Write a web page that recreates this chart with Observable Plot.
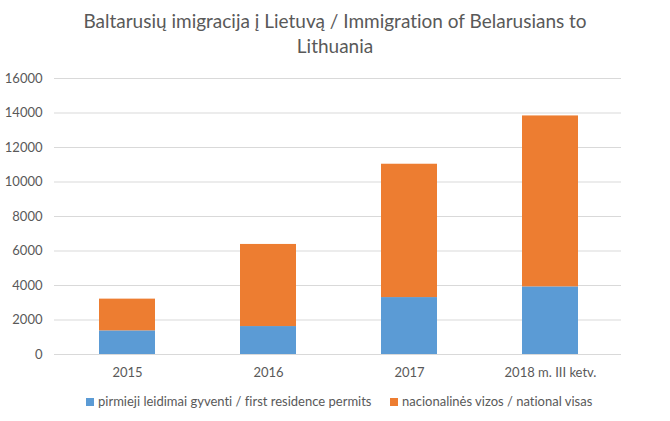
<!DOCTYPE html>
<html>
<head>
<meta charset="utf-8">
<script src="https://cdn.jsdelivr.net/npm/d3@7"></script>
<script src="https://cdn.jsdelivr.net/npm/@observablehq/plot@0.6"></script>
<style>
  body { margin: 0; background: #fff; font-family: Lato, "Open Sans", sans-serif; color: #595959; font-variant-ligatures: none; font-feature-settings: "liga" 0, "clig" 0; }
  #wrap { width: 670px; height: 421px; position: relative; overflow: hidden; }
  #title { position: absolute; top: 8px; left: 0; width: 670px; text-align: center; font-size: 19px; line-height: 25px; color: #595959; }
  #chart { position: absolute; top: 62px; left: 0; }
  #chart svg text { font-variant-ligatures: none; }
  #legend { position: absolute; top: 392px; left: 0; width: 670px; font-size: 13px; color: #595959; }
  .item { position: absolute; top: 0; white-space: nowrap; line-height: 18px; }
  .sw { display: inline-block; width: 8px; height: 8px; margin-right: 4px; vertical-align: 0px; }
</style>
</head>
<body>
<div id="wrap">
  <div id="title">Baltarusių imigracija į Lietuvą / Immigration of Belarusians to<br>Lithuania</div>
  <div id="chart"></div>
  <div id="legend"></div>
</div>
<script>
const categories = ["2015", "2016", "2017", "2018 m. III ketv."];
const seriesNames = ["pirmieji leidimai gyventi / first residence permits", "nacionalinės vizos / national visas"];
const permits = [1370, 1620, 3300, 3920];
const visas = [1840, 4760, 7730, 9910];
const colors = ["#5B9BD5", "#ED7D31"];
const yTicks = [0, 2000, 4000, 6000, 8000, 10000, 12000, 14000, 16000];

const data = [];
categories.forEach((c, i) => {
  data.push({cat: c, series: seriesNames[0], value: permits[i]});
  data.push({cat: c, series: seriesNames[1], value: visas[i]});
});

const chart = Plot.plot({
  width: 670,
  height: 323,
  marginTop: 16,
  marginBottom: 31,
  marginLeft: 54,
  marginRight: 49,
  style: {fontFamily: "Lato, 'Open Sans', sans-serif", fontSize: "13px", color: "#595959", background: "#fff"},
  x: {domain: categories, paddingInner: 0.6, paddingOuter: 0.3, insetLeft: 3, label: null, tickSize: 0, tickPadding: 13},
  y: {domain: [0, 16000], ticks: yTicks, label: null, tickSize: 0, tickPadding: 12, tickFormat: d => String(d)},
  color: {domain: seriesNames, range: colors},
  marks: [
    Plot.ruleY(yTicks, {stroke: "#d9d9d9", strokeWidth: 1}),
    Plot.barY(data, {x: "cat", y: "value", fill: "series", order: seriesNames})
  ]
});
document.getElementById("chart").appendChild(chart);

const legend = document.getElementById("legend");
const positions = [86, 390];
seriesNames.forEach((s, i) => {
  const el = document.createElement("div");
  el.className = "item";
  el.style.left = positions[i] + "px";
  const sw = document.createElement("span");
  sw.className = "sw";
  sw.style.background = colors[i];
  el.appendChild(sw);
  el.appendChild(document.createTextNode(s));
  legend.appendChild(el);
});
</script>
</body>
</html>
